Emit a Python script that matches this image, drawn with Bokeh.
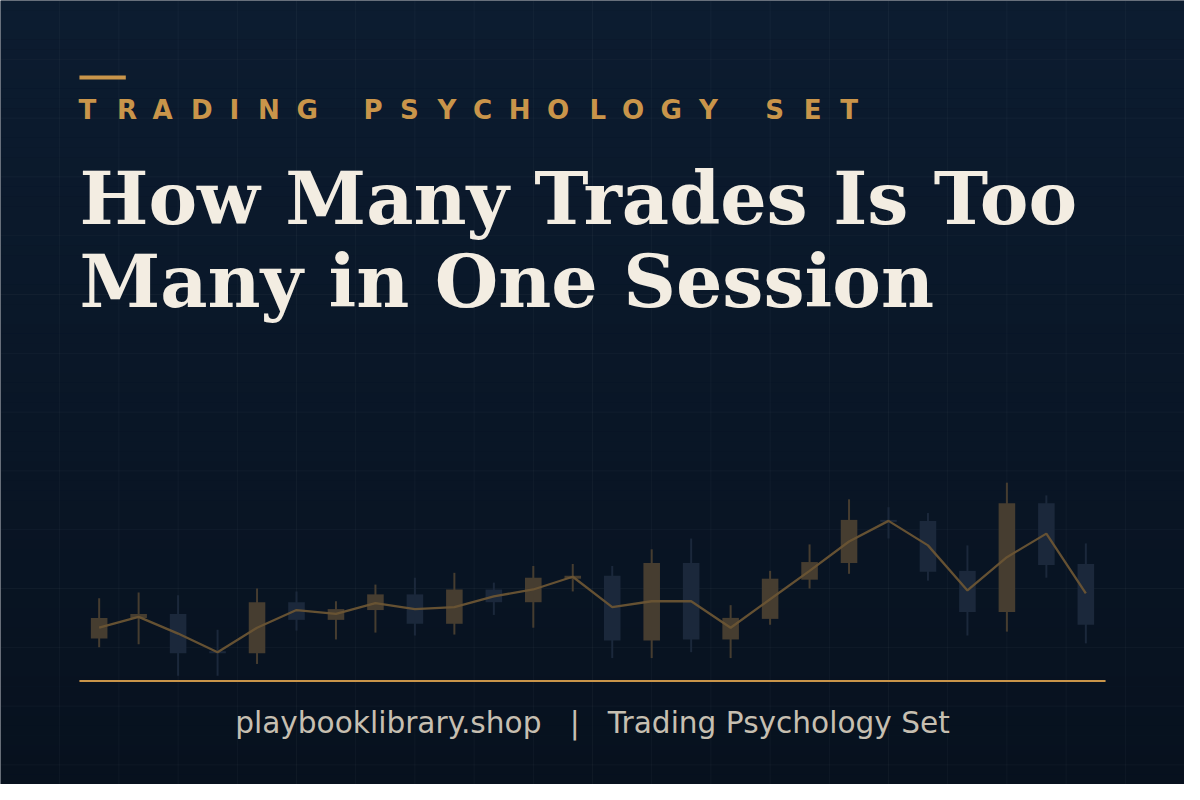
import numpy as np
from bokeh.plotting import figure
from bokeh.models import Range1d, ColumnDataSource
from bokeh.core.properties import value
from bokeh.embed import file_html
from bokeh.resources import INLINE

# ---------------- data ----------------
candle_index = list(range(26))
open_price = [49, 70, 74, 36, 34, 86, 68, 78, 94, 64, 99, 86, 110, 113, 47, 126, 48, 69, 109, 126, 170, 169, 118, 76, 187, 125]
close_price = [70, 74, 34, 34, 86, 68, 79, 94, 64, 99, 86, 111, 113, 47, 126, 48, 70, 110, 127, 170, 168, 117, 76, 187, 124, 63]
high_price = [90, 96, 93, 58, 100, 97, 87, 104, 111, 116, 106, 123, 125, 123, 140, 151, 83, 118, 145, 191, 183, 177, 144, 208, 195, 146]
low_price = [40, 43, 11, 11, 23, 57, 48, 55, 52, 53, 73, 60, 97, 29, 29, 35, 29, 63, 100, 115, 151, 108, 52, 56, 111, 44]
trend_price = [60, 71, 54, 35, 60, 78, 74, 85, 79, 81, 92, 99, 112, 81, 87, 87, 60, 89, 118, 148, 169, 144, 98, 132, 156, 95]

kicker_text = "TRADING PSYCHOLOGY SET"
title_lines = ["How Many Trades Is Too", "Many in One Session"]
footer_text = "playbooklibrary.shop\u00a0\u00a0\u00a0|\u00a0\u00a0\u00a0Trading Psychology Set"

# ---------------- styles ----------------
GOLD = "#c9954a"
CREAM = "#f3ede2"
FOOT = "#c6bfb1"
UP_COL = "#463d30"
DOWN_COL = "#1b283b"
LINE_COL = "#6a5434"

W, H = 1184, 784
S = W / 1200.0  # screen px per design px

def fs(px):
    return "%.1fpx" % (px * S)

p = figure(width=W, height=H, x_range=Range1d(0, 1200), y_range=Range1d(800, 0),
           output_backend="svg", toolbar_location=None, min_border=0,
           background_fill_color="#0a1728", border_fill_color="#0a1728")
p.axis.visible = False
p.grid.visible = False
p.outline_line_color = None

# background gradient (vertical strips)
n = 80
ys = np.linspace(0, 800, n + 1)
c0 = np.array([12, 28, 48])
c1 = np.array([7, 17, 30])
cols = []
for i in range(n):
    t = i / (n - 1)
    c = (c0 * (1 - t) + c1 * t).round().astype(int)
    cols.append("#%02x%02x%02x" % tuple(c))
p.quad(left=0, right=1200, top=ys[:-1], bottom=ys[1:], fill_color=cols, line_color=None)

# faint grid
gx = list(range(0, 1201, 60))
gy = list(range(0, 801, 60))
p.segment(x0=gx, x1=gx, y0=0, y1=800, line_color="#ffffff", line_alpha=0.035, line_width=1)
p.segment(x0=0, x1=1200, y0=gy, y1=gy, line_color="#ffffff", line_alpha=0.035, line_width=1)

# candles on their own scales
p.extra_x_ranges = {"idx": Range1d((0 - 100) / 40, (1200 - 100) / 40)}
p.extra_y_ranges = {"price": Range1d(700 - 800, 700 - 0)}

colors = [UP_COL if c >= o else DOWN_COL for o, c in zip(open_price, close_price)]
src = ColumnDataSource(dict(
    x=candle_index, o=open_price, c=close_price, h=high_price, l=low_price,
    top=[max(o, c) for o, c in zip(open_price, close_price)],
    bot=[min(o, c) for o, c in zip(open_price, close_price)],
    col=colors))
p.segment(x0="x", x1="x", y0="l", y1="h", line_color="col", line_width=2, source=src,
          x_range_name="idx", y_range_name="price")
p.vbar(x="x", width=0.42, top="top", bottom="bot", fill_color="col", line_color=None, source=src,
       x_range_name="idx", y_range_name="price")
p.line(candle_index, trend_price, line_color=LINE_COL, line_width=2.3, line_alpha=0.95,
       x_range_name="idx", y_range_name="price")

# accent bar
p.quad(left=80, right=127, top=76.5, bottom=80.5, fill_color=GOLD, line_color=None)

# kicker (letter-spaced)
kicker_x = [79, 118, 154, 193, 232, 261, 300, 368, 405, 443, 479, 515, 554, 597, 630, 669, 708, 775, 814, 851]
chars = [ch for ch in kicker_text if ch != " "]
p.text(x=kicker_x, y=112, text=chars, text_color=GOLD, text_font=value("DejaVu Sans"),
       text_font_style="bold", text_font_size=fs(26.5), text_baseline="alphabetic", text_align="left")

# title
p.text(x=[80, 80], y=[202, 286], text=title_lines, text_color=CREAM, text_font=value("DejaVu Serif"),
       text_font_style="bold", text_font_size=fs(74), text_baseline="alphabetic", text_align="left")

# footer rule + text
p.segment(x0=80, x1=1120, y0=694.5, y1=694.5, line_color=GOLD, line_width=2)
p.text(x=600, y=737, text=[footer_text], text_color=FOOT, text_font=value("DejaVu Sans"),
       text_font_size=fs(30), text_baseline="alphabetic", text_align="center")

open("out.html", "w").write(file_html(p, INLINE))
